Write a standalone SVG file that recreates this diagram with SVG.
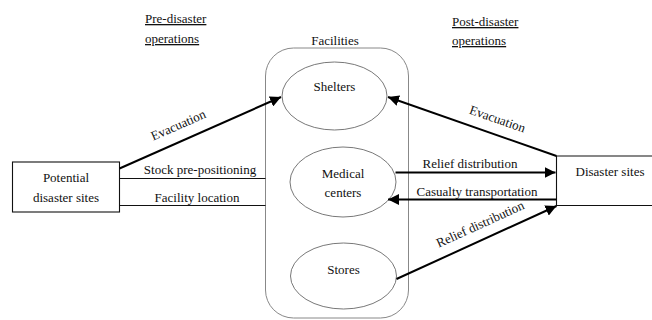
<svg xmlns="http://www.w3.org/2000/svg" width="652" height="320" viewBox="0 0 652 320">
<style>
text{font-family:'Liberation Serif','DejaVu Serif',serif;font-size:13px;fill:#111}
.c{text-anchor:middle}
.u{text-decoration:underline}
.box{fill:#fff;stroke:#111;stroke-width:1.1}
.ell{fill:#fff;stroke:#555;stroke-width:0.8}
.fac{fill:none;stroke:#888;stroke-width:1}
.thin{stroke:#111;stroke-width:1.1;fill:none}
.thick{stroke:#000;stroke-width:2;fill:none}
</style>
<defs>
<marker id="ah" viewBox="0 0 10 10" refX="10" refY="5" markerWidth="5.5" markerHeight="5.5" orient="auto" markerUnits="strokeWidth">
<path d="M0,0 L10,5 L0,10 z" fill="#000"/>
</marker>
</defs>
<g id="headers">
<text class="u" x="145" y="23">Pre-disaster</text>
<text class="u" x="145" y="43">operations</text>
<text class="u" x="452" y="26">Post-disaster</text>
<text class="u" x="452" y="45">operations</text>
</g>
<g id="facilities">
<rect class="fac" x="265.5" y="48" width="143" height="270" rx="28" ry="28"/>
<text class="c" x="335" y="45">Facilities</text>
</g>
<g id="shelters">
<ellipse class="ell" cx="334.5" cy="96" rx="52.5" ry="34"/>
<text class="c" x="334.5" y="91">Shelters</text>
</g>
<g id="medical">
<ellipse class="ell" cx="343" cy="182" rx="53" ry="35"/>
<text class="c" x="343" y="178">Medical</text>
<text class="c" x="343" y="197">centers</text>
</g>
<g id="stores">
<ellipse class="ell" cx="343.5" cy="276" rx="53" ry="33"/>
<text class="c" x="343.5" y="274">Stores</text>
</g>
<g id="potential">
<rect class="box" x="12.5" y="162" width="107" height="50"/>
<text class="c" x="66" y="182">Potential</text>
<text class="c" x="66" y="202">disaster sites</text>
</g>
<g id="disaster">
<path class="box" d="M653,156 H556.5 V205.5 H653"/>
<text class="c" x="610" y="176">Disaster sites</text>
</g>
<g id="connectors">
<line class="thick" x1="119.5" y1="168.5" x2="281" y2="97" marker-end="url(#ah)"/>
<line class="thin" x1="119.5" y1="178.5" x2="265.5" y2="178.5"/>
<line class="thin" x1="119.5" y1="205.5" x2="265.5" y2="205.5"/>
<line class="thick" x1="556.5" y1="156" x2="388" y2="97" marker-end="url(#ah)"/>
<line class="thick" x1="395.5" y1="172.5" x2="555.5" y2="172.5" marker-end="url(#ah)"/>
<line class="thick" x1="556.5" y1="199.5" x2="388" y2="199.5" marker-end="url(#ah)"/>
<line class="thick" x1="396.5" y1="279" x2="556.5" y2="206" marker-end="url(#ah)"/>
<text class="c" transform="translate(180,129) rotate(-23.7)">Evacuation</text>
<text class="c" x="200" y="174">Stock pre-positioning</text>
<text class="c" x="197" y="202">Facility location</text>
<text class="c" transform="translate(496,123) rotate(19.1)">Evacuation</text>
<text class="c" x="470" y="168">Relief distribution</text>
<text class="c" x="477" y="196">Casualty transportation</text>
<text class="c" transform="translate(482,228) rotate(-24.5)">Relief distribution</text>
</g>
</svg>
